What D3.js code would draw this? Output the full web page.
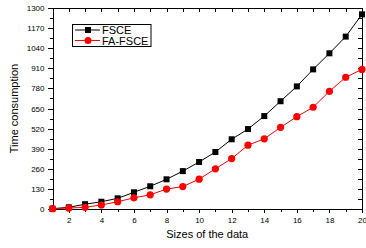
<!DOCTYPE html>
<html lang="en">
<head>
  <meta charset="UTF-8"/>
  <title>Time consumption</title>
  <script src="https://d3js.org/d3.v7.min.js"></script>
  <style>
body { margin: 0; background: #fff; font-family: 'Liberation Sans', Arial, sans-serif; }
svg { display: block; }
.axis path, .axis line { stroke: #000; stroke-width: 1; shape-rendering: crispEdges; }
.axis text { font-size: 8px; fill: #000; font-family: 'Liberation Sans', Arial, sans-serif; }
text.label { font-size: 11px; fill: #000; }
text.legend { font-size: 11px; fill: #000; }
  </style>
</head>
<body>
  <svg width="366" height="248"></svg>
  <script>
const sizes = [1, 2, 3, 4, 5, 6, 7, 8, 9, 10, 11, 12, 13, 14, 15, 16, 17, 18, 19, 20];
const fsce = [2, 11, 31, 47, 69, 108, 147, 192, 245, 304, 369, 451, 517, 601, 697, 793, 903, 1007, 1115, 1259];
const faFsce = [2, 6, 11, 26, 47, 72, 92, 129, 145, 193, 260, 326, 413, 454, 528, 597, 658, 761, 852, 903];
const yTicks = [0, 130, 260, 390, 520, 650, 780, 910, 1040, 1170, 1300];
const xTicks = [2, 4, 6, 8, 10, 12, 14, 16, 18, 20];

const svg = d3.select('svg');
const plotLeft = 52.5, plotRight = 362, plotTop = 8, plotBottom = 209;

const x = d3.scaleLinear().domain([1, 20]).range([plotLeft, plotRight]);
const y = d3.scaleLinear().domain([0, 1300]).range([plotBottom, plotTop]);

const yMinor = d3.range(65, 1300, 130);
const xMinor = d3.range(1, 20, 2);
const fmt = d3.format('d');

// minor ticks
svg.append('g').attr('class', 'axis')
  .attr('transform', `translate(${plotLeft},0)`)
  .call(d3.axisLeft(y).tickValues(yMinor).tickSize(3).tickFormat(''))
  .select('.domain').remove();
svg.append('g').attr('class', 'axis')
  .attr('transform', `translate(0,${plotBottom})`)
  .call(d3.axisBottom(x).tickValues(xMinor).tickSize(3).tickFormat(''))
  .select('.domain').remove();

// major axes
svg.append('g').attr('class', 'axis')
  .attr('transform', `translate(${plotLeft},0)`)
  .call(d3.axisLeft(y).tickValues(yTicks).tickFormat(fmt).tickSize(5).tickSizeOuter(0).tickPadding(3));
svg.append('g').attr('class', 'axis')
  .attr('transform', `translate(0,${plotBottom})`)
  .call(d3.axisBottom(x).tickValues(xTicks).tickFormat(fmt).tickSize(4).tickSizeOuter(0).tickPadding(4));

// mirror axes, ticks inward
svg.append('g').attr('class', 'axis')
  .attr('transform', `translate(0,${plotTop})`)
  .call(d3.axisBottom(x).tickValues(sizes).tickSize(4).tickSizeOuter(0).tickFormat(''));
svg.append('g').attr('class', 'axis')
  .attr('transform', `translate(${plotRight},0)`)
  .call(d3.axisLeft(y).tickValues(yTicks.concat(yMinor)).tickSize(4).tickSizeOuter(0).tickFormat(''));

const line = d3.line().x((d, i) => x(sizes[i])).y(d => y(d));

svg.append('path').datum(fsce)
  .attr('fill', 'none').attr('stroke', '#000').attr('stroke-width', 1).attr('d', line);
svg.append('path').datum(faFsce)
  .attr('fill', 'none').attr('stroke', '#ff0000').attr('stroke-width', 1).attr('d', line);

svg.append('g').selectAll('rect').data(fsce).join('rect')
  .attr('x', (d, i) => x(sizes[i]) - 3)
  .attr('y', d => y(d) - 3)
  .attr('width', 6).attr('height', 6)
  .attr('fill', '#000');
svg.append('g').selectAll('circle').data(faFsce).join('circle')
  .attr('cx', (d, i) => x(sizes[i]))
  .attr('cy', d => y(d))
  .attr('r', 3.6)
  .attr('fill', '#ff0000');

// legend
const lg = svg.append('g');
lg.append('rect').attr('x', 72.5).attr('y', 24.5).attr('width', 78.5).attr('height', 22)
  .attr('fill', '#fff').attr('stroke', '#000').attr('stroke-width', 1);
lg.append('line').attr('x1', 75).attr('x2', 100).attr('y1', 30).attr('y2', 30).attr('stroke', '#000');
lg.append('rect').attr('x', 85).attr('y', 27).attr('width', 6).attr('height', 6).attr('fill', '#000');
lg.append('text').attr('class', 'legend').attr('x', 102).attr('y', 34).text('FSCE');
lg.append('line').attr('x1', 75).attr('x2', 100).attr('y1', 40.5).attr('y2', 40.5).attr('stroke', '#ff0000');
lg.append('circle').attr('cx', 88).attr('cy', 40.5).attr('r', 3.5).attr('fill', '#ff0000');
lg.append('text').attr('class', 'legend').attr('x', 102).attr('y', 44.5).text('FA-FSCE');

svg.append('text').attr('class', 'label')
  .attr('x', (plotLeft + plotRight) / 2).attr('y', 238)
  .attr('text-anchor', 'middle').text('Sizes of the data');
svg.append('text').attr('class', 'label')
  .attr('transform', `translate(18,${(plotTop + plotBottom) / 2}) rotate(-90)`)
  .attr('text-anchor', 'middle').text('Time consumption');
  </script>
</body>
</html>
